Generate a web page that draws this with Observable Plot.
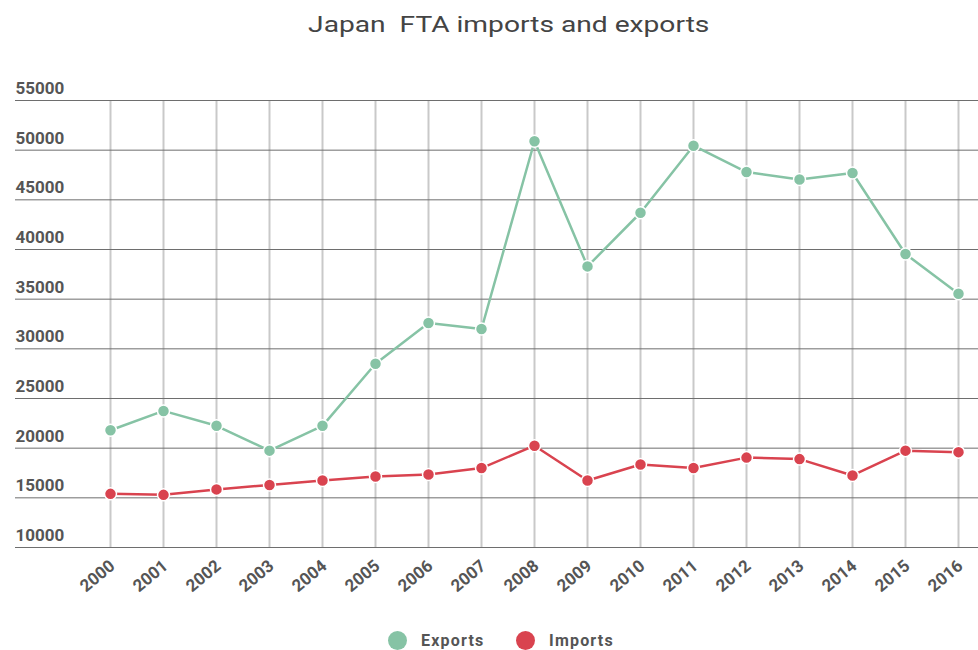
<!DOCTYPE html>
<html>
<head>
<meta charset="utf-8">
<script src="https://cdn.jsdelivr.net/npm/d3@7"></script>
<script src="https://cdn.jsdelivr.net/npm/@observablehq/plot@0.6"></script>
<style>
  html, body { margin: 0; padding: 0; background: #fff; }
  body { width: 978px; height: 650px; overflow: hidden; font-family: Roboto, "Noto Sans", sans-serif; }
  #title { height: 46px; text-align: center; font-size: 22px; color: #444; line-height: 50px; box-sizing: border-box; padding-left: 40px; }
  #title span { display: inline-block; transform: scaleX(1.28); transform-origin: center; }
  #legend { position: absolute; top: 628px; left: 0; width: 978px; height: 24px; }
  .lg { position: absolute; top: 0; display: flex; align-items: center; font-size: 16px; font-weight: 700; color: #555; height: 24px; letter-spacing: 1.2px; }
  .sw { width: 19px; height: 19px; border-radius: 50%; margin-right: 14px; }
</style>
</head>
<body>
<div id="title"><span>Japan&nbsp; FTA imports and exports</span></div>
<div id="chart"></div>
<div id="legend"></div>
<script>
const years = [2000, 2001, 2002, 2003, 2004, 2005, 2006, 2007, 2008, 2009, 2010, 2011, 2012, 2013, 2014, 2015, 2016];
const exportsVals = [21800, 23750, 22250, 19750, 22250, 28500, 32600, 32000, 50900, 38300, 43700, 50450, 47800, 47050, 47700, 39550, 35550];
const importsVals = [15400, 15300, 15850, 16300, 16750, 17150, 17350, 18000, 20250, 16750, 18350, 18000, 19050, 18900, 17250, 19750, 19600];
const seriesNames = ["Exports", "Imports"];
const seriesColors = ["#86c3a5", "#d9434f"];
const yTicks = [10000, 15000, 20000, 25000, 30000, 35000, 40000, 45000, 50000, 55000];

const data = [];
years.forEach((yr, i) => {
  data.push({year: String(yr), value: exportsVals[i], series: "Exports"});
  data.push({year: String(yr), value: importsVals[i], series: "Imports"});
});
const yearLabels = years.map(String);

const chart = Plot.plot({
  width: 978,
  height: 570,
  marginTop: 54,
  marginBottom: 69,
  marginLeft: 15,
  marginRight: 0,
  style: {fontFamily: "Roboto, 'Noto Sans', sans-serif", background: "transparent"},
  x: {type: "point", domain: yearLabels, range: [107, 960], padding: 0, label: null},
  y: {domain: [10000, 55000], label: null},
  color: {domain: seriesNames, range: seriesColors},
  marks: [
    Plot.ruleX(yearLabels, {stroke: "#c9c9c9", strokeWidth: 2}),
    Plot.ruleY(yTicks, {stroke: "#6e6e6e", strokeWidth: 1}),
    Plot.axisY(yTicks, {anchor: "left", label: null, tickSize: 0, tickPadding: 0, textAnchor: "start", dy: -12, fontSize: 17, fontWeight: 700, fill: "#555", tickFormat: d => String(d), letterSpacing: "1.8px"}),
    Plot.axisX(yearLabels, {anchor: "bottom", label: null, tickSize: 0, tickPadding: 6, tickRotate: -40, fontSize: 17, fontWeight: 700, fill: "#555", letterSpacing: "1.2px", dx: 2, dy: 10}),
    Plot.line(data, {x: "year", y: "value", z: "series", stroke: "series", strokeWidth: 2.5}),
    Plot.dot(data, {x: "year", y: "value", fill: "series", r: 6, stroke: "#fff", strokeWidth: 1.5})
  ]
});
document.getElementById("chart").appendChild(chart);

const legend = document.getElementById("legend");
const lefts = [388, 516];
seriesNames.forEach((name, i) => {
  const item = document.createElement("div");
  item.className = "lg";
  item.style.left = lefts[i] + "px";
  const sw = document.createElement("div");
  sw.className = "sw";
  sw.style.background = seriesColors[i];
  const t = document.createElement("span");
  t.textContent = name;
  item.appendChild(sw);
  item.appendChild(t);
  legend.appendChild(item);
});
</script>
</body>
</html>
